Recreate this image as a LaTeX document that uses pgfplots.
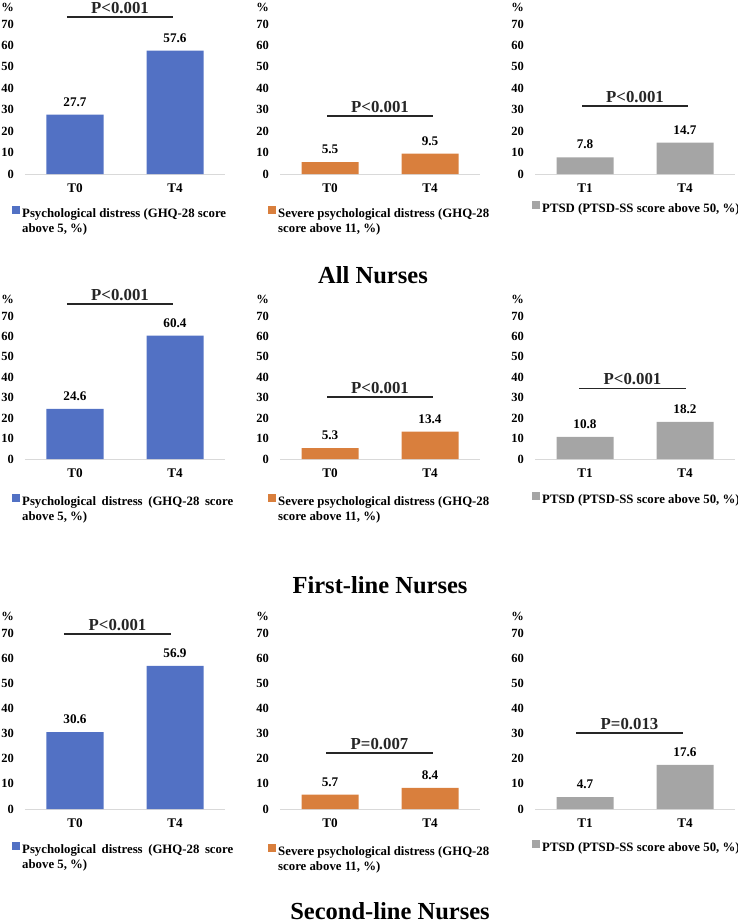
\documentclass[border=0pt]{standalone}
\usepackage{fontspec}
\setmainfont{Liberation Serif}
\usepackage{pgfplots}
\pgfplotsset{compat=1.18}

\definecolor{cblue}{HTML}{5271C4}
\definecolor{corange}{HTML}{D97F3D}
\definecolor{cgray}{HTML}{A5A5A5}

\newcommand{\lgfont}{\bfseries\fontsize{12.8}{15.5}\selectfont}

\tikzset{
  pline/.style={line width=1.3pt, black!85},
  ptext/.style={font=\bfseries\fontsize{16.8}{19}\selectfont, inner sep=0pt, above=3pt},
  pct/.style={anchor=east, inner sep=0pt, xshift=-11pt, yshift=17pt,
    font=\bfseries\fontsize{12.5}{14}\selectfont},
}

\pgfplotsset{
  panel/.style={
    scale only axis, width=200pt,
    xmin=-0.5, xmax=1.5, ymin=0, ymax=70,
    xtick={0,1}, ytick={0,10,...,70},
    axis x line=bottom, axis y line=left,
    x axis line style={-, draw=black!15, line width=0.8pt},
    y axis line style={draw=none},
    major tick length=0pt,
    /pgf/number format/assume math mode=true,
    yticklabel style={anchor=east, inner sep=0pt, xshift=-11pt,
      font=\bfseries\fontsize{12.5}{14}\selectfont},
    xticklabel style={anchor=north, inner sep=0pt, yshift=-10pt,
      font=\bfseries\fontsize{13.2}{15}\selectfont},
    ybar, bar width=57pt, bar shift=0pt,
    nodes near coords={\pgfmathprintnumber[fixed,fixed zerofill,precision=1]{\pgfplotspointmeta}},
    nodes near coords style={font=\bfseries\fontsize{13.2}{15}\selectfont, inner sep=0pt, yshift=8pt, black},
    clip=false,
    legend style={at={(axis description cs:0,0)}, anchor=north west,
      draw=none, fill=none, inner sep=0pt, font=\lgfont,
      /tikz/every even column/.style={column sep=2pt}},
    legend cell align=left,
    legend image code/.code={\fill[##1] (0pt,-0.5pt) rectangle (8pt,7.5pt);},
  },
}

\begin{document}
\begin{tikzpicture}
\path[use as bounding box] (0,0) rectangle (738pt,-924pt);

% ---------------- row 1: all nurses ----------------
\begin{axis}[panel, height=150pt, at={(25pt,-174pt)}, anchor=south west,
  xticklabels={T0,T4}, legend style={xshift=-13pt, yshift=-32pt}]
  \addplot[fill=cblue, draw=none] coordinates {(0,27.7) (1,57.6)};
  \addlegendentry{\parbox[t]{230pt}{\raggedright Psychological distress (GHQ-28 score\newline above 5, \%)}}
  \draw[pline] (axis cs:-0.08,73.3) -- node[ptext] {P<0.001} (axis cs:0.98,73.3);
  \node[pct] at (axis cs:-0.5,70) {\%};
\end{axis}

\begin{axis}[panel, height=150pt, at={(280pt,-174pt)}, anchor=south west,
  xticklabels={T0,T4}, legend style={xshift=-12pt, yshift=-32pt}]
  \addplot[fill=corange, draw=none] coordinates {(0,5.5) (1,9.5)};
  \addlegendentry{\parbox[t]{230pt}{\raggedright Severe psychological distress (GHQ-28\newline score above 11, \%)}}
  \draw[pline] (axis cs:-0.03,27.1) -- node[ptext] {P<0.001} (axis cs:1.03,27.1);
  \node[pct] at (axis cs:-0.5,70) {\%};
\end{axis}

\begin{axis}[panel, height=150pt, at={(535pt,-174pt)}, anchor=south west,
  xticklabels={T1,T4}, legend style={xshift=-3pt, yshift=-27pt}]
  \addplot[fill=cgray, draw=none] coordinates {(0,7.8) (1,14.7)};
  \addlegendentry{PTSD (PTSD-SS score above 50, \%)}
  \draw[pline] (axis cs:-0.03,31.7) -- node[ptext] {P<0.001} (axis cs:1.03,31.7);
  \node[pct] at (axis cs:-0.5,70) {\%};
\end{axis}

\node[anchor=base, font=\bfseries\fontsize{24.5}{28}\selectfont] at (373pt,-283pt) {All Nurses};

% ---------------- row 2: first-line nurses ----------------
\begin{axis}[panel, height=143pt, at={(25pt,-459pt)}, anchor=south west,
  xticklabels={T0,T4}, legend style={xshift=-13pt, yshift=-35pt}]
  \addplot[fill=cblue, draw=none] coordinates {(0,24.6) (1,60.4)};
  \addlegendentry{\parbox[t]{211pt}{\makebox[211pt][s]{Psychological distress (GHQ-28 score}\newline above 5, \%)}}
  \draw[pline] (axis cs:-0.08,75.9) -- node[ptext] {P<0.001} (axis cs:0.98,75.9);
  \node[pct] at (axis cs:-0.5,70) {\%};
\end{axis}

\begin{axis}[panel, height=143pt, at={(280pt,-459pt)}, anchor=south west,
  xticklabels={T0,T4}, legend style={xshift=-12pt, yshift=-35pt}]
  \addplot[fill=corange, draw=none] coordinates {(0,5.3) (1,13.4)};
  \addlegendentry{\parbox[t]{230pt}{\raggedright Severe psychological distress (GHQ-28\newline score above 11, \%)}}
  \draw[pline] (axis cs:-0.03,30.3) -- node[ptext] {P<0.001} (axis cs:1.03,30.3);
  \node[pct] at (axis cs:-0.5,70) {\%};
\end{axis}

\begin{axis}[panel, height=143pt, at={(535pt,-459pt)}, anchor=south west,
  xticklabels={T1,T4}, legend style={xshift=-3pt, yshift=-33pt}]
  \addplot[fill=cgray, draw=none] coordinates {(0,10.8) (1,18.2)};
  \addlegendentry{PTSD (PTSD-SS score above 50, \%)}
  \draw[pline] (axis cs:-0.06,34.5) -- node[ptext] {P<0.001} (axis cs:1.01,34.5);
  \node[pct] at (axis cs:-0.5,70) {\%};
\end{axis}

\node[anchor=base, font=\bfseries\fontsize{24.5}{28}\selectfont] at (380pt,-593pt) {First-line Nurses};

% ---------------- row 3: second-line nurses ----------------
\begin{axis}[panel, height=176pt, at={(25pt,-809pt)}, anchor=south west,
  xticklabels={T0,T4}, legend style={xshift=-13pt, yshift=-33pt}]
  \addplot[fill=cblue, draw=none] coordinates {(0,30.6) (1,56.9)};
  \addlegendentry{\parbox[t]{211pt}{\makebox[211pt][s]{Psychological distress (GHQ-28 score}\newline above 5, \%)}}
  \draw[pline] (axis cs:-0.11,69.6) -- node[ptext] {P<0.001} (axis cs:0.96,69.6);
  \node[pct] at (axis cs:-0.5,70) {\%};
\end{axis}

\begin{axis}[panel, height=176pt, at={(280pt,-809pt)}, anchor=south west,
  xticklabels={T0,T4}, legend style={xshift=-12pt, yshift=-35pt}]
  \addplot[fill=corange, draw=none] coordinates {(0,5.7) (1,8.4)};
  \addlegendentry{\parbox[t]{230pt}{\raggedright Severe psychological distress (GHQ-28\newline score above 11, \%)}}
  \draw[pline] (axis cs:-0.04,22.3) -- node[ptext] {P=0.007} (axis cs:1.03,22.3);
  \node[pct] at (axis cs:-0.5,70) {\%};
\end{axis}

\begin{axis}[panel, height=176pt, at={(535pt,-809pt)}, anchor=south west,
  xticklabels={T1,T4}, legend style={xshift=-3pt, yshift=-31pt}]
  \addplot[fill=cgray, draw=none] coordinates {(0,4.7) (1,17.6)};
  \addlegendentry{PTSD (PTSD-SS score above 50, \%)}
  \draw[pline] (axis cs:-0.09,30.2) -- node[ptext] {P=0.013} (axis cs:0.98,30.2);
  \node[pct] at (axis cs:-0.5,70) {\%};
\end{axis}

\node[anchor=base, font=\bfseries\fontsize{24.5}{28}\selectfont] at (390pt,-919pt) {Second-line Nurses};
\end{tikzpicture}
\end{document}
